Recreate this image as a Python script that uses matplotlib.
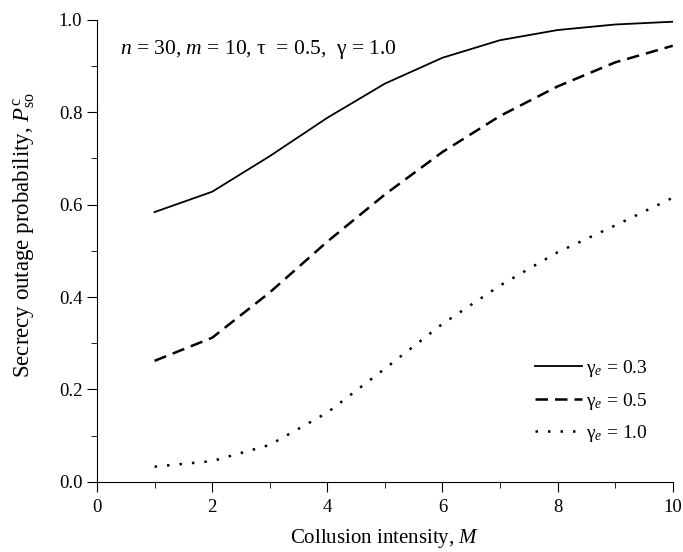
import numpy as np
import matplotlib.pyplot as plt

plt.rcParams['font.family'] = ['Liberation Serif', 'DejaVu Serif']
plt.rcParams['mathtext.fontset'] = 'custom'
plt.rcParams['mathtext.rm'] = 'Liberation Serif'
plt.rcParams['mathtext.it'] = 'Liberation Serif:italic'

M = [1, 2, 3, 4, 5, 6, 7, 8, 9, 10]
p_03 = [0.584, 0.628, 0.705, 0.788, 0.862, 0.918, 0.956, 0.978, 0.990, 0.996]
p_05 = [0.262, 0.312, 0.410, 0.520, 0.622, 0.714, 0.792, 0.856, 0.908, 0.944]
p_10 = [0.033, 0.045, 0.080, 0.150, 0.245, 0.342, 0.425, 0.497, 0.555, 0.615]

fig = plt.figure(figsize=(6.83, 5.52), dpi=100)
ax = fig.add_axes([0.142, 0.127, 0.843, 0.837])

ax.plot(M, p_03, color='black', lw=1.3, ls='-', label=r'$\mathrm{\gamma}_{e}$ = 0.3')
ax.plot(M, p_05, color='black', lw=1.8, ls=(0, (5, 2.8)), label=r'$\mathrm{\gamma}_{e}$ = 0.5')
ax.plot(M, p_10, color='black', lw=1.8, ls=(0, (1, 4)), label=r'$\mathrm{\gamma}_{e}$ = 1.0')

ax.set_xlim(0, 10)
ax.set_ylim(0, 1.0)
ax.set_xticks([0, 2, 4, 6, 8, 10])
ax.set_xticks([1, 3, 5, 7, 9], minor=True)
ax.set_yticks([0.0, 0.2, 0.4, 0.6, 0.8, 1.0])
ax.set_yticks([0.1, 0.3, 0.5, 0.7, 0.9], minor=True)
ax.set_yticklabels(['0.0', '0.2', '0.4', '0.6', '0.8', '1.0'])
ax.tick_params(which='both', direction='out', labelsize=13.5)
ax.tick_params(which='major', length=7)
ax.tick_params(which='minor', length=4)
ax.tick_params(axis='x', pad=5)
ax.spines['top'].set_visible(False)
ax.spines['right'].set_visible(False)

ax.set_xlabel(r'Collusion intensity, $\mathit{M}$', fontsize=15, labelpad=8)
ax.set_ylabel(r'Secrecy outage probability, $\mathit{P}^{\mathrm{c}}_{\mathrm{so}}$', fontsize=16.5)
ax.yaxis.set_label_coords(-0.105, 0.535)

ax.text(0.04, 0.935, r'$\mathit{n}$ = 30, $\mathit{m}$ = 10, τ  = 0.5,  γ = 1.0', fontsize=15.5,
        va='center', transform=ax.transAxes)

ax.legend(loc='lower right', bbox_to_anchor=(0.98, 0.052), frameon=False, fontsize=14,
          handlelength=2.4, handletextpad=0.2, labelspacing=0.6, borderpad=0.2)

fig.savefig('out.png', dpi=100)
